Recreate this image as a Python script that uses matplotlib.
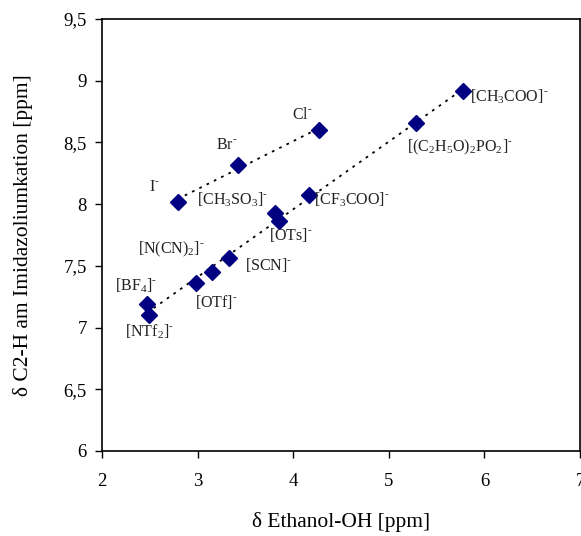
import matplotlib
matplotlib.use("Agg")
import matplotlib.pyplot as plt
import numpy as np
from matplotlib.ticker import FuncFormatter, MultipleLocator

plt.rcParams['font.family'] = ['Liberation Serif', 'DejaVu Serif']
plt.rcParams['mathtext.fontset'] = 'custom'
plt.rcParams['mathtext.rm'] = 'Liberation Serif'

# Halide series (upper trend)
halide_names = ["I", "Br", "Cl"]
halide_x = [2.79, 3.42, 4.27]
halide_y = [8.02, 8.32, 8.60]

# Other anions (lower trend)
anion_names = ["NTf2", "BF4", "OTf", "N(CN)2", "SCN", "CH3SO3", "OTs", "CF3COO", "(C2H5O)2PO2", "CH3COO"]
anion_x = [2.49, 2.47, 2.98, 3.15, 3.33, 3.81, 3.85, 4.16, 5.28, 5.78]
anion_y = [7.10, 7.19, 7.36, 7.45, 7.56, 7.93, 7.86, 8.07, 8.66, 8.92]

H = "\u2010"
def sub(s):
    return r"$_{\mathregular{%s}}$" % s
SUP = r"$^{\mathregular{%s}}$" % H

label_text = {
    "I": "I" + SUP,
    "Br": "Br" + SUP,
    "Cl": "Cl" + SUP,
    "NTf2": "[NTf" + sub("2") + "]" + SUP,
    "BF4": "[BF" + sub("4") + "]" + SUP,
    "OTf": "[OTf]" + SUP,
    "N(CN)2": "[N(CN)" + sub("2") + "]" + SUP,
    "SCN": "[SCN]" + SUP,
    "CH3SO3": "[CH" + sub("3") + "SO" + sub("3") + "]" + SUP,
    "OTs": "[OTs]" + SUP,
    "CF3COO": "[CF" + sub("3") + "COO]" + SUP,
    "(C2H5O)2PO2": "[(C" + sub("2") + "H" + sub("5") + "O)" + sub("2") + "PO" + sub("2") + "]" + SUP,
    "CH3COO": "[CH" + sub("3") + "COO]" + SUP,
}
# label anchor positions in data coords (x, y, ha)
label_pos = {
    "I": (2.55, 8.14, "center"),
    "Br": (3.30, 8.48, "center"),
    "Cl": (4.10, 8.72, "center"),
    "CH3SO3": (3.37, 8.04, "center"),
    "CF3COO": (4.22, 8.04, "left"),
    "OTs": (3.98, 7.75, "center"),
    "CH3COO": (5.85, 8.87, "left"),
    "(C2H5O)2PO2": (5.74, 8.46, "center"),
    "N(CN)2": (2.73, 7.63, "center"),
    "SCN": (3.74, 7.51, "center"),
    "BF4": (2.35, 7.34, "center"),
    "OTf": (3.20, 7.21, "center"),
    "NTf2": (2.50, 6.97, "center"),
}

fig = plt.figure(figsize=(5.81, 5.36), dpi=100)
ax = fig.add_axes([0.1756, 0.1586, 0.8227, 0.8060])

navy = "#000080"

# trend lines (linear fits over data range)
for xs, ys in [(halide_x, halide_y), (anion_x, anion_y)]:
    xs = np.array(xs); ys = np.array(ys)
    m, b = np.polyfit(xs, ys, 1)
    xx = np.array([xs.min(), xs.max()])
    ax.plot(xx, m * xx + b, color="black", linestyle=(0, (1.5, 3)), linewidth=1.3, zorder=2)

ax.plot(halide_x, halide_y, linestyle="none", marker="D", markersize=8.5, color=navy, zorder=3)
ax.plot(anion_x, anion_y, linestyle="none", marker="D", markersize=8.5, color=navy, zorder=3)

for name in halide_names + anion_names:
    x, y, ha = label_pos[name]
    ax.text(x, y, label_text[name], ha=ha, va="center", fontsize=11.5, color="#222222")

ax.set_xlim(2, 7)
ax.set_ylim(6, 9.5)
ax.xaxis.set_major_locator(MultipleLocator(1))
ax.yaxis.set_major_locator(MultipleLocator(0.5))
fmt = FuncFormatter(lambda v, p: ("%g" % v).replace(".", ","))
ax.xaxis.set_major_formatter(fmt)
ax.yaxis.set_major_formatter(fmt)
ax.tick_params(direction="out", length=5, width=1, labelsize=13.5, pad=6)
ax.tick_params(axis="x", pad=11)
for s in ax.spines.values():
    s.set_linewidth(1.2)

ax.set_xlabel("δ Ethanol-OH [ppm]", fontsize=15.5, labelpad=16)
ax.set_ylabel("δ C2-H am Imidazoliumkation [ppm]", fontsize=15.5, labelpad=22)

fig.savefig("out.png", dpi=100)
